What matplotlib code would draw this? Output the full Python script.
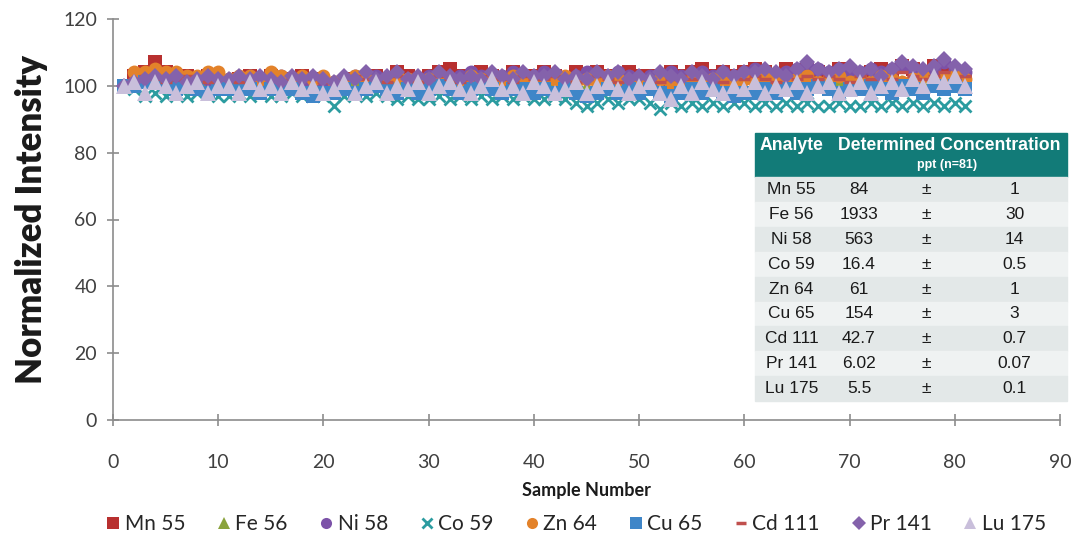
import matplotlib
matplotlib.use("Agg")
import matplotlib.pyplot as plt
from matplotlib.patches import Rectangle
import numpy as np

plt.rcParams['font.family'] = ['Lato', 'DejaVu Sans']

samples = np.arange(1, 82)

mn55 = [100, 103, 104, 107, 104, 103, 103, 102, 103, 102,
        101, 102, 103, 102, 103, 101, 102, 103, 102, 101,
        100, 101, 102, 101, 103, 102, 104, 103, 102, 103,
        104, 105, 103, 102, 104, 103, 102, 104, 103, 103,
        104, 103, 102, 104, 103, 104, 103, 102, 104, 103,
        103, 102, 104, 103, 104, 105, 103, 104, 103, 104,
        105, 104, 103, 105, 104, 105, 104, 103, 105, 104,
        103, 104, 105, 104, 106, 105, 104, 106, 105, 104, 103]
fe56 = [100, 101, 102, 101, 100, 101, 102, 100, 101, 102,
        101, 100, 101, 102, 101, 100, 102, 101, 101, 100,
        100, 101, 102, 101, 100, 101, 102, 101, 100, 102,
        102, 101, 100, 101, 102, 101, 100, 102, 101, 101,
        100, 101, 102, 101, 100, 101, 102, 101, 100, 101,
        101, 100, 101, 102, 101, 100, 102, 101, 101, 100,
        101, 102, 101, 100, 101, 102, 101, 100, 102, 101,
        101, 100, 101, 102, 101, 100, 101, 102, 101, 100, 101]
ni58 = [100, 101, 102, 102, 103, 101, 102, 101, 102, 103,
        102, 101, 103, 102, 101, 103, 102, 101, 102, 101,
        101, 102, 103, 102, 103, 102, 103, 102, 102, 103,
        103, 102, 103, 104, 103, 102, 103, 104, 102, 103,
        104, 103, 102, 103, 104, 103, 102, 104, 103, 102,
        103, 102, 104, 103, 103, 104, 103, 104, 103, 104,
        105, 104, 103, 104, 105, 106, 105, 104, 105, 104,
        104, 105, 104, 105, 106, 105, 104, 105, 107, 105, 104]
co59 = [100, 99, 97, 98, 97, 98, 97, 98, 98, 97,
        97, 98, 97, 98, 97, 97, 98, 97, 98, 97,
        94, 97, 98, 97, 98, 97, 96, 97, 96, 96,
        97, 96, 97, 96, 97, 96, 97, 96, 97, 96,
        96, 97, 96, 95, 94, 95, 96, 95, 96, 96,
        95, 93, 95, 94, 95, 94, 95, 94, 95, 95,
        94, 95, 94, 95, 94, 95, 94, 94, 95, 94,
        94, 95, 94, 95, 94, 95, 94, 95, 94, 95, 94]
zn64 = [100, 104, 104, 105, 104, 104, 103, 103, 104, 104,
        102, 103, 103, 102, 104, 103, 102, 103, 102, 103,
        101, 102, 103, 102, 101, 102, 103, 102, 101, 102,
        103, 102, 101, 103, 102, 101, 102, 103, 101, 102,
        101, 102, 103, 101, 102, 101, 103, 102, 101, 102,
        101, 102, 100, 101, 102, 101, 102, 101, 100, 102,
        101, 103, 102, 101, 102, 103, 101, 102, 103, 101,
        102, 101, 103, 102, 101, 102, 103, 101, 102, 103, 102]
cu65 = [100, 100, 101, 101, 100, 99, 100, 99, 98, 99,
        99, 100, 99, 98, 99, 100, 99, 98, 97, 98,
        98, 99, 98, 99, 100, 99, 98, 99, 98, 99,
        100, 99, 98, 99, 100, 99, 98, 99, 99, 98,
        99, 98, 99, 98, 97, 98, 99, 98, 99, 98,
        99, 98, 97, 98, 99, 98, 99, 98, 97, 98,
        98, 99, 98, 99, 98, 99, 100, 99, 98, 99,
        99, 100, 99, 98, 100, 99, 98, 100, 99, 100, 99]
cd111 = [100, 102, 103, 102, 101, 102, 103, 102, 101, 102,
         102, 101, 102, 103, 102, 101, 102, 103, 102, 101,
         101, 102, 103, 102, 102, 101, 103, 102, 101, 102,
         103, 102, 101, 102, 103, 102, 102, 101, 103, 102,
         102, 103, 102, 101, 102, 103, 102, 101, 102, 103,
         102, 101, 102, 103, 102, 103, 102, 101, 103, 102,
         103, 102, 101, 103, 102, 103, 102, 103, 102, 101,
         103, 102, 103, 102, 104, 103, 102, 103, 104, 102, 103]
pr141 = [100, 101, 102, 103, 102, 103, 101, 102, 103, 102,
         102, 103, 102, 103, 102, 101, 103, 102, 103, 102,
         101, 103, 102, 104, 102, 103, 104, 102, 103, 102,
         104, 103, 102, 103, 102, 104, 103, 102, 104, 103,
         103, 104, 102, 103, 102, 104, 103, 104, 102, 103,
         102, 104, 103, 102, 104, 103, 102, 104, 103, 104,
         104, 105, 104, 103, 105, 107, 105, 104, 105, 106,
         104, 105, 103, 105, 107, 106, 105, 106, 108, 106, 105]
lu175 = [100, 101, 98, 101, 100, 98, 100, 101, 98, 100,
         100, 98, 101, 99, 100, 98, 101, 99, 100, 98,
         99, 101, 98, 100, 101, 98, 100, 99, 101, 98,
         100, 101, 99, 98, 100, 102, 99, 100, 98, 101,
         100, 98, 99, 101, 98, 100, 101, 99, 98, 100,
         101, 98, 96, 100, 98, 101, 99, 98, 100, 99,
         101, 98, 100, 99, 101, 98, 100, 101, 98, 99,
         101, 98, 100, 101, 99, 102, 100, 103, 101, 103, 100]

series = [
    ("Mn 55", mn55, "s", "#b8302f", 10),
    ("Fe 56", fe56, "^", "#8aa33c", 10),
    ("Ni 58", ni58, "o", "#7c52a8", 10),
    ("Co 59", co59, "x", "#2c9ca0", 9),
    ("Zn 64", zn64, "o", "#e3822a", 10),
    ("Cu 65", cu65, "s", "#3f86c8", 10),
    ("Cd 111", cd111, "_", "#c0504d", 9),
    ("Pr 141", pr141, "D", "#8462ab", 8.5),
    ("Lu 175", lu175, "^", "#c9bfdb", 11),
]

analytes = ["Mn 55", "Fe 56", "Ni 58", "Co 59", "Zn 64", "Cu 65", "Cd 111", "Pr 141", "Lu 175"]
conc = ["84", "1933", "563", "16.4", "61", "154", "42.7", "6.02", "5.5"]
err = ["1", "30", "14", "0.5", "1", "3", "0.7", "0.07", "0.1"]

W, H = 1076, 544
fig = plt.figure(figsize=(W / 100, H / 100), dpi=100)
ax = fig.add_axes([113 / W, 1 - 420 / H, 947 / W, 401 / H])

for name, vals, mk, col, ms in series:
    if mk == "x":
        ax.plot(samples, vals, linestyle="none", marker=mk, color=col,
                markersize=ms, markeredgewidth=2, label=name)
    elif mk == "_":
        ax.plot(samples, vals, linestyle="none", marker=mk, color=col,
                markersize=ms, markeredgewidth=2.5, label=name)
    else:
        ax.plot(samples, vals, linestyle="none", marker=mk, color=col,
                markersize=ms, markeredgewidth=0, label=name)

ax.set_xlim(0, 90)
ax.set_ylim(0, 120)
ax.set_xticks(range(0, 91, 10))
ax.set_yticks(range(0, 121, 20))
for s in ("top", "right"):
    ax.spines[s].set_visible(False)
for s in ("left", "bottom"):
    ax.spines[s].set_color("#8c8c8c")
    ax.spines[s].set_linewidth(1.2)
ax.tick_params(direction="inout", length=9, width=1.2, color="#8c8c8c",
               labelcolor="#404040", labelsize=14)
ax.tick_params(axis="x", pad=20)
ax.tick_params(axis="y", pad=7)
ax.set_ylabel("Normalized Intensity", fontsize=25, fontweight="heavy",
              color="#1a1a1a", labelpad=11)
ax.set_xlabel("Sample Number", fontsize=13, fontweight="bold",
              color="#1a1a1a", labelpad=8)

# legend row under the axis title
leg = ax.legend(loc="center", bbox_to_anchor=(0.5 - 12 / 947, -104 / 401),
                ncol=9, frameon=False, fontsize=15, handletextpad=0.05,
                columnspacing=1.35, handlelength=1.0, markerscale=0.8,
                labelcolor="#262626", borderaxespad=0, borderpad=0)

# concentration table
tx = [755, 828, 890, 962, 1067]
top, head_h, row_h = 133, 44, 24.9


def fx(px):
    return px / W


def fy(py):
    return 1 - py / H


fig.patches.append(Rectangle((fx(tx[0]), fy(top + head_h)), fx(tx[-1] - tx[0]),
                             head_h / H, transform=fig.transFigure,
                             color="#127b78", zorder=5))
fig.text(fx((tx[0] + tx[1]) / 2), fy(top + 13), "Analyte", ha="center", va="center",
         color="white", fontsize=12.7, fontweight="bold", family="Liberation Sans", zorder=6)
fig.text(fx((tx[1] + tx[-1]) / 2 + 2), fy(top + 13), "Determined Concentration",
         ha="center", va="center", color="white", fontsize=12.7, fontweight="bold",
         family="Liberation Sans", zorder=6)
fig.text(fx((tx[1] + tx[-1]) / 2), fy(top + 32), "ppt (n=81)", ha="center",
         va="center", color="white", fontsize=9, fontweight="bold",
         family="Liberation Sans", zorder=6)

for i in range(len(analytes)):
    y0 = top + head_h + i * row_h
    shade = "#e3e8e8" if i % 2 == 0 else "#eff2f2"
    fig.patches.append(Rectangle((fx(tx[0]), fy(y0 + row_h)), fx(tx[-1] - tx[0]),
                                 row_h / H, transform=fig.transFigure,
                                 color=shade, zorder=5))
    yc = fy(y0 + row_h / 2)
    cells = [analytes[i], conc[i], "±", err[i]]
    for j, txt in enumerate(cells):
        fig.text(fx((tx[j] + tx[j + 1]) / 2), yc, txt, ha="center", va="center",
                 color="#1a1a1a", fontsize=12.5, family="Liberation Sans", zorder=6)

fig.savefig("out.png", dpi=100)
